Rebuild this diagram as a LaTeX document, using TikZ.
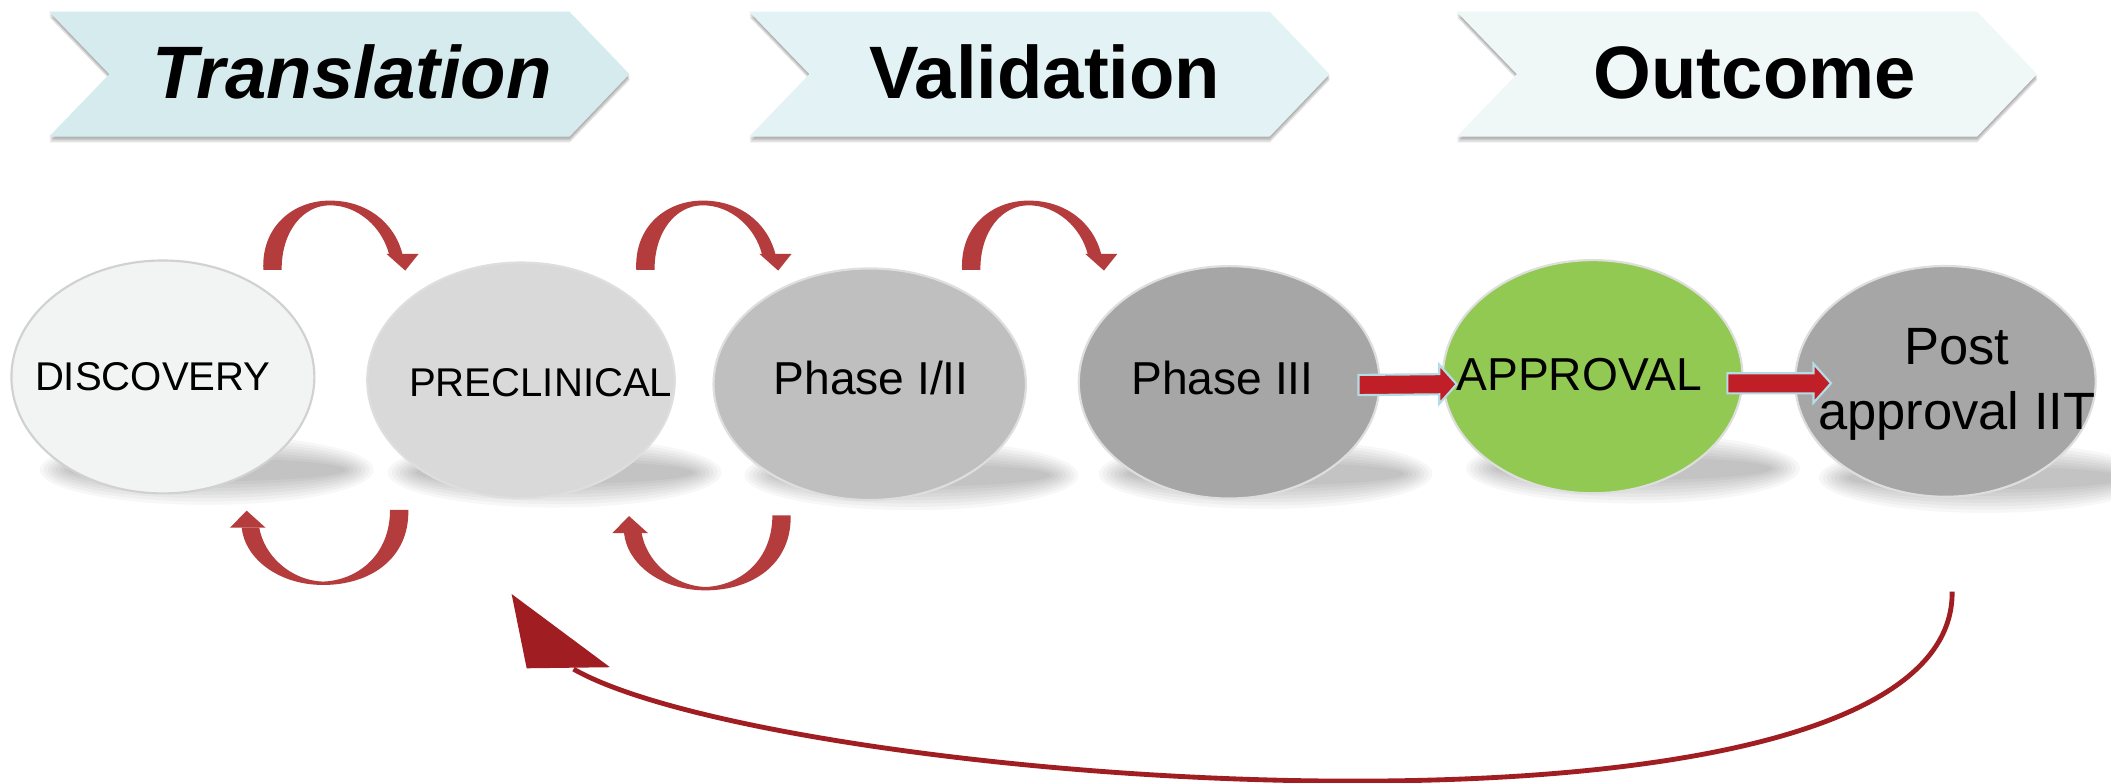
\documentclass[tikz,border=0pt]{standalone}
\usepackage{fontspec}
\setmainfont{Liberation Sans}
\usetikzlibrary{shapes.geometric,calc}
\definecolor{chevA}{HTML}{D6EBEE}
\definecolor{chevB}{HTML}{E3F2F4}
\definecolor{chevC}{HTML}{F0F7F7}
\definecolor{cDisc}{HTML}{F2F3F3}
\definecolor{cPre}{HTML}{D9D9D9}
\definecolor{cPhA}{HTML}{BFBFBF}
\definecolor{cPhB}{HTML}{A6A6A6}
\definecolor{cAppr}{HTML}{92C953}
\definecolor{cPost}{HTML}{A6A6A6}
\definecolor{arcred}{HTML}{B43C3C}
\definecolor{bigred}{HTML}{A01E22}
\definecolor{arrred}{HTML}{C01F27}
\definecolor{arrline}{HTML}{B4DCE4}
\tikzset{
  phasebox/.style={ellipse, inner sep=0pt, draw=black!13, line width=0.8pt},
  chevtext/.style={font=\fontsize{27.6}{30}\selectfont\bfseries, anchor=base, inner sep=0pt},
  smalltext/.style={font=\fontsize{14.9}{17}\selectfont, anchor=base, inner sep=0pt},
  midtext/.style={font=\fontsize{17.15}{20}\selectfont, anchor=base, inner sep=0pt},
  bigtext/.style={font=\fontsize{19.5}{23}\selectfont, anchor=base, inner sep=0pt},
}
\newcommand\chevshape[1]{(#1,8.7) -- ++(386.5,0) -- ++(44.5,46.4) -- ++(-44.5,46.4) -- ++(-386.5,0) -- ++(44.7,-46.4) -- cycle}
\newcommand\drawchev[2]{%
  \foreach \s in {1,2,3}{\fill[black, opacity=0.11] [shift={(0.1*\s,1.4*\s)}] \chevshape{#1};}
  \fill[#2] \chevshape{#1};}
\newcommand\eshadow[2]{%
  \foreach \k in {0,...,7}{\fill[black, opacity=0.032] (#1,#2) ellipse [x radius={124-3*\k}, y radius={26-2.5*\k}];}}
\newcommand\toparc[1]{%
  \begin{scope}[shift={(#1,0)}]
  \fill[arcred] (195.6,200.5) .. controls (194,168) and (218,149) .. (245,149)
     .. controls (272,149) and (293,165) .. (299,189) -- (289,189)
     .. controls (284,169) and (266,152.5) .. (245,152.5)
     .. controls (225,152.5) and (209,172) .. (209.2,200.5) -- cycle;
  \fill[arcred] (287,188.5) -- (311,188.5) -- (301,201) -- cycle;
  \end{scope}}
\newcommand\botarc[2]{%
  \begin{scope}[shift={(#1,#2)}]
  \fill[arcred] (303.3,378.8) .. controls (304,415) and (275,434.5) .. (240,434.5)
     .. controls (207,434.5) and (182,415) .. (179.5,392) -- (192.6,392)
     .. controls (196,412) and (215,431) .. (240,432)
     .. controls (266,431) and (289.7,412) .. (289.7,378.8) -- cycle;
  \fill[arcred] (170.8,392) -- (197.3,392) -- (183.2,379.3) -- cycle;
  \end{scope}}
\newcommand\blockarr[2]{%
  \filldraw[fill=arrred, draw=arrline, line width=0.8pt, line join=miter]
   ($(#1)+(0,-7.5)$) -- ($(#2)+(-13,-7.5)$) -- ($(#2)+(-13,-14.5)$) -- (#2)
   -- ($(#2)+(-13,14.5)$) -- ($(#2)+(-13,7.5)$) -- ($(#1)+(0,7.5)$) -- cycle;}
\begin{document}
\begin{tikzpicture}[x=0.5pt,y=-0.5pt]
\useasboundingbox (0,0) rectangle (1568,581);
\fill[white] (0,0) rectangle (1568,581);
% chevrons
\drawchev{36.5}{chevA}
\drawchev{556.5}{chevB}
\drawchev{1082}{chevC}
\node[chevtext] (transT) at (261.5,73) {\itshape Translation};
\node[chevtext] (validT) at (776,73) {Validation};
\node[chevtext] (outT) at (1303.4,73) {Outcome};
% shadows of phases
\eshadow{153.5}{349}
\eshadow{412}{351}
\eshadow{677}{353}
\eshadow{940}{352}
\eshadow{1213}{348}
\eshadow{1475}{355}
% phases
\node[phasebox, fill=cDisc, draw=black!18, minimum width=112.5pt, minimum height=86.5pt] (disc) at (121,280) {};
\node[phasebox, fill=cPre, minimum width=114.2pt, minimum height=87.5pt] (pre) at (387,282.5) {};
\node[phasebox, fill=cPhA, minimum width=116pt, minimum height=86pt] (phA) at (646,285.4) {};
\node[phasebox, fill=cPhB, minimum width=111.7pt, minimum height=86.3pt] (phB) at (913,284) {};
\node[phasebox, fill=cAppr, minimum width=111.3pt, minimum height=86.6pt] (appr) at (1183,279.8) {};
\node[phasebox, fill=cPost, minimum width=111.6pt, minimum height=85.7pt] (post) at (1445,283.3) {};
\node[smalltext] (discT) at (113.5,289.7) {DISCOVERY};
\node[smalltext] (preT) at (401.6,294.6) {PRECLINICAL};
\node[midtext] (phAT) at (647,293.4) {Phase I/II};
\node[midtext] (phBT) at (908,293.4) {Phase III};
\node[midtext] (apprT) at (1173,289.7) {APPROVAL};
\node[bigtext] (postTa) at (1453.5,271) {Post};
\node[bigtext] (postTb) at (1453.5,319.4) {approval IIT};
% curved arrows
\toparc{0}
\toparc{277}
\toparc{519}
\botarc{0}{0}
\botarc{284}{4}
% block arrows
\coordinate (ba1s) at (1009,286);
\coordinate (ba1e) at (1082,285.4);
\coordinate (ba2s) at (1283,284.7);
\coordinate (ba2e) at (1360,284.7);
\blockarr{ba1s}{ba1e}
\blockarr{ba2s}{ba2e}
% big return arrow
\coordinate (bigS) at (1450,439.5);
\coordinate (bigE) at (426,497);
\draw[bigred, line width=1.8pt] (bigS) .. controls (1452,650) and (580,585) .. (bigE);
\fill[bigred] (380,441.2) -- (391.2,496.4) -- (453.1,495.6) -- cycle;
\end{tikzpicture}
\end{document}
